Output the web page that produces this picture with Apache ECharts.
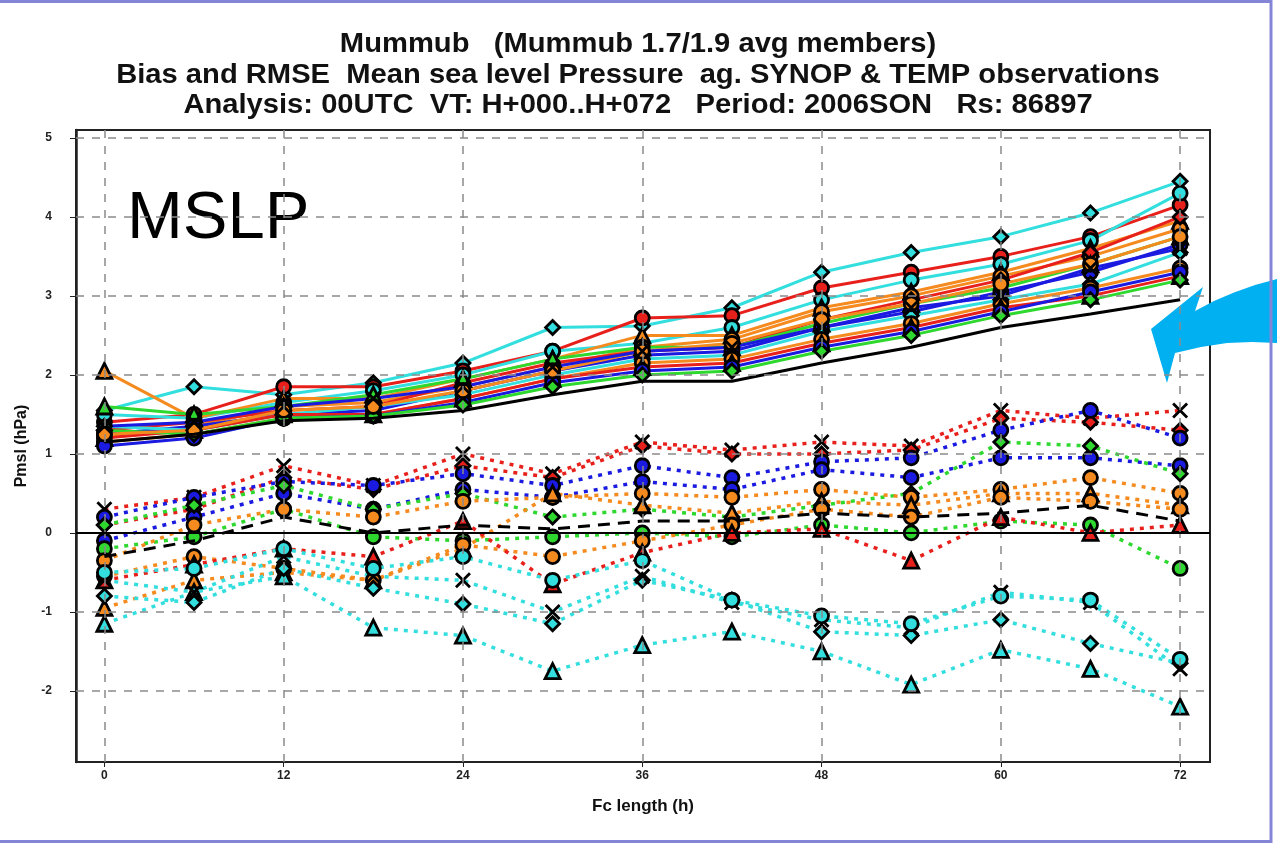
<!DOCTYPE html>
<html>
<head>
<meta charset="utf-8">
<script src="https://cdn.jsdelivr.net/npm/echarts@6/dist/echarts.min.js"></script>
<style>
  html, body { margin: 0; padding: 0; background: #fff; }
  #chart { width: 1277px; height: 845px; }
</style>
</head>
<body>
<div id="chart"></div>
<script>
// forecast lengths (h)
const hours = [0, 6, 12, 18, 24, 30, 36, 42, 48, 54, 60, 66, 72]
const xTicks = [0, 12, 24, 36, 48, 60, 72]
const yTicks = [-2, -1, 0, 1, 2, 3, 4, 5]

const titleLines = [
  'Mummub   (Mummub 1.7/1.9 avg members)',
  'Bias and RMSE  Mean sea level Pressure  ag. SYNOP & TEMP observations',
  'Analysis: 00UTC  VT: H+000..H+072   Period: 2006SON   Rs: 86897'
]

// RMSE (solid) - ensemble mean in black
const rmseMean = [1.15, 1.25, 1.42, 1.45, 1.55, 1.75, 1.92, 1.92, 2.15, 2.35, 2.6, 2.77, 2.95]
const rmseCyan1 = [1.55, 1.85, 1.75, 1.9, 2.15, 2.6, 2.62, 2.85, 3.3, 3.55, 3.75, 4.05, 4.45]
const rmseRed1 = [1.4, 1.5, 1.85, 1.85, 2.05, 2.3, 2.72, 2.75, 3.1, 3.3, 3.5, 3.75, 4.15]
const rmseCyan2 = [1.5, 1.45, 1.65, 1.8, 2.0, 2.3, 2.4, 2.6, 2.95, 3.2, 3.4, 3.7, 4.3]
const rmseOrange1 = [2.05, 1.45, 1.7, 1.7, 1.95, 2.2, 2.5, 2.5, 2.85, 3.05, 3.3, 3.6, 3.95]
const rmseOrange2 = [1.2, 1.35, 1.6, 1.65, 1.85, 2.1, 2.35, 2.45, 2.8, 3.0, 3.25, 3.5, 3.85]
const rmseRed2 = [1.3, 1.4, 1.55, 1.6, 1.9, 2.15, 2.3, 2.35, 2.7, 2.95, 3.2, 3.55, 4.0]
const rmseGreen1 = [1.6, 1.5, 1.6, 1.75, 1.95, 2.2, 2.35, 2.35, 2.65, 2.9, 3.1, 3.4, 3.75]
const rmseBlue1 = [1.25, 1.35, 1.5, 1.55, 1.8, 2.05, 2.25, 2.3, 2.6, 2.8, 3.05, 3.3, 3.65]
const rmseCyan3 = [1.35, 1.3, 1.5, 1.6, 1.75, 2.0, 2.2, 2.25, 2.55, 2.75, 2.95, 3.15, 3.55]
const rmseOrange3 = [1.15, 1.25, 1.45, 1.5, 1.7, 1.95, 2.15, 2.2, 2.45, 2.65, 2.9, 3.1, 3.35]
const rmseRed3 = [1.2, 1.3, 1.5, 1.5, 1.7, 1.95, 2.1, 2.15, 2.4, 2.6, 2.85, 3.0, 3.25]
const rmseBlue2 = [1.1, 1.2, 1.45, 1.48, 1.65, 1.9, 2.05, 2.1, 2.35, 2.55, 2.8, 3.05, 3.3]
const rmseGreen2 = [1.3, 1.25, 1.45, 1.48, 1.62, 1.85, 2.0, 2.05, 2.3, 2.5, 2.75, 2.95, 3.2]
const rmseOrange4 = [1.25, 1.3, 1.55, 1.6, 1.8, 2.05, 2.3, 2.4, 2.7, 2.9, 3.15, 3.4, 3.75]
const rmseBlue3 = [1.35, 1.4, 1.6, 1.7, 1.85, 2.1, 2.3, 2.35, 2.6, 2.85, 3.0, 3.35, 3.6]

// Bias (dotted) - ensemble mean in black dashed
const biasMean = [-0.3, -0.1, 0.2, 0.0, 0.1, 0.05, 0.15, 0.15, 0.25, 0.2, 0.25, 0.35, 0.15]
const biasRed1 = [0.3, 0.45, 0.85, 0.6, 1.0, 0.75, 1.15, 1.05, 1.15, 1.1, 1.55, 1.45, 1.55]
const biasRed2 = [0.1, 0.3, 0.7, 0.55, 0.85, 0.7, 1.1, 1.0, 1.0, 1.05, 1.45, 1.4, 1.3]
const biasBlue1 = [0.2, 0.45, 0.65, 0.6, 0.75, 0.6, 0.85, 0.7, 0.9, 0.95, 1.3, 1.55, 1.2]
const biasBlue2 = [-0.1, 0.2, 0.5, 0.3, 0.55, 0.45, 0.65, 0.55, 0.8, 0.7, 0.95, 0.95, 0.85]
const biasGreen1 = [0.1, 0.35, 0.6, 0.3, 0.5, 0.2, 0.3, 0.2, 0.35, 0.5, 1.15, 1.1, 0.75]
const biasGreen2 = [-0.2, -0.05, 0.3, -0.05, -0.1, -0.05, 0.0, -0.05, 0.1, 0.0, 0.15, 0.1, -0.45]
const biasOrange1 = [-0.35, 0.1, 0.3, 0.2, 0.4, 0.45, 0.5, 0.45, 0.55, 0.45, 0.55, 0.7, 0.5]
const biasOrange2 = [-0.95, -0.6, -0.5, -0.6, -0.2, 0.5, 0.35, 0.25, 0.4, 0.35, 0.5, 0.5, 0.35]
const biasOrange3 = [-0.55, -0.3, -0.45, -0.6, -0.15, -0.3, -0.1, 0.1, 0.3, 0.2, 0.45, 0.4, 0.3]
const biasRed3 = [-0.6, -0.4, -0.2, -0.3, 0.15, -0.65, -0.25, 0.0, 0.05, -0.35, 0.2, 0.0, 0.1]
const biasCyan1 = [-1.15, -0.75, -0.55, -1.2, -1.3, -1.75, -1.42, -1.25, -1.5, -1.92, -1.48, -1.72, -2.2]
const biasCyan2 = [-0.8, -0.88, -0.45, -0.7, -0.9, -1.15, -0.6, -0.85, -1.25, -1.3, -1.1, -1.4, -1.65]
const biasCyan3 = [-0.6, -0.75, -0.3, -0.55, -0.6, -1.0, -0.55, -0.88, -1.1, -1.2, -0.75, -0.88, -1.72]
const biasCyan4 = [-0.5, -0.45, -0.2, -0.45, -0.3, -0.6, -0.35, -0.85, -1.05, -1.15, -0.8, -0.85, -1.6]

const C = {
  cyan: '#33dede', red: '#e8201c', blue: '#1a1ae0', green: '#2ed82e', orange: '#f58a1f'
}
const X_SYM = 'path://M0,0L10,10M10,0L0,10'

const rmseMembers = [
  [rmseCyan1, C.cyan, 'diamond'], [rmseRed1, C.red, 'circle'], [rmseCyan2, C.cyan, 'circle'],
  [rmseOrange1, C.orange, 'triangle'], [rmseOrange2, C.orange, 'circle'], [rmseRed2, C.red, 'diamond'],
  [rmseGreen1, C.green, 'triangle'], [rmseBlue1, C.blue, 'circle'], [rmseCyan3, C.cyan, 'diamond'],
  [rmseOrange3, C.orange, 'circle'], [rmseRed3, C.red, 'triangle'], [rmseBlue2, C.blue, 'circle'],
  [rmseGreen2, C.green, 'diamond'], [rmseOrange4, C.orange, 'circle'], [rmseBlue3, C.blue, X_SYM]
]
const biasMembers = [
  [biasRed1, C.red, X_SYM], [biasRed2, C.red, 'diamond'], [biasBlue1, C.blue, 'circle'],
  [biasBlue2, C.blue, 'circle'], [biasGreen1, C.green, 'diamond'], [biasGreen2, C.green, 'circle'],
  [biasOrange1, C.orange, 'circle'], [biasOrange2, C.orange, 'triangle'], [biasOrange3, C.orange, 'circle'],
  [biasRed3, C.red, 'triangle'], [biasCyan1, C.cyan, 'triangle'], [biasCyan2, C.cyan, 'diamond'],
  [biasCyan3, C.cyan, X_SYM], [biasCyan4, C.cyan, 'circle']
]

const pairs = arr => hours.map((h, i) => [h, arr[i]])

function member(values, color, symbol, dotted) {
  return {
    type: 'line',
    data: pairs(values),
    symbol: symbol,
    symbolSize: symbol === 'triangle' ? 15 : 14,
    lineStyle: { color: color, width: dotted ? 3.5 : 3, type: dotted ? [4, 6] : 'solid' },
    itemStyle: { color: color, borderColor: '#000', borderWidth: 2.8 },
    z: 3,
    silent: true
  }
}

const series = []

// grid lines drawn as mark lines
series.push({
  type: 'line',
  data: [[0, 0]],
  symbol: 'none',
  lineStyle: { opacity: 0 },
  z: 1,
  silent: true,
  markLine: {
    silent: true,
    symbol: 'none',
    label: { show: false },
    lineStyle: { color: '#8a8a8a', width: 1.5, type: [8, 8] },
    data: yTicks.filter(v => v !== 0).map(v => ({ yAxis: v }))
      .concat(xTicks.map(v => ({ xAxis: v })))
  }
})

biasMembers.forEach(([v, c, s]) => series.push(member(v, c, s, true)))
rmseMembers.forEach(([v, c, s]) => series.push(member(v, c, s, false)))

// zero line
series.push({
  type: 'line',
  data: [[0, 0]],
  symbol: 'none',
  lineStyle: { opacity: 0 },
  z: 2,
  silent: true,
  markLine: {
    silent: true,
    symbol: 'none',
    label: { show: false },
    lineStyle: { color: '#000', width: 2, type: 'solid' },
    data: [{ yAxis: 0 }]
  }
})

series.push({
  type: 'line', data: pairs(rmseMean), symbol: 'none', z: 4, silent: true,
  lineStyle: { color: '#000', width: 3 }
})
series.push({
  type: 'line', data: pairs(biasMean), symbol: 'none', z: 4, silent: true,
  lineStyle: { color: '#000', width: 3, type: [12, 8] }
})

// title lines as stretched text
const titleY = [45, 76, 106]
const titleGraphics = titleLines.map((t, i) => ({
  type: 'text', x: 638, y: titleY[i], scaleX: 1.08, silent: true,
  style: {
    text: t, fontFamily: 'Liberation Sans', fontWeight: 'bold', fontSize: 27,
    fill: '#111', textAlign: 'center', textVerticalAlign: 'middle'
  }
}))

const chart = echarts.init(document.getElementById('chart'))
chart.setOption({
  animation: false,
  backgroundColor: '#fff',
  grid: {
    left: 76, right: 67, top: 130, bottom: 83,
    show: true, borderColor: '#222', borderWidth: 2, backgroundColor: 'transparent'
  },
  xAxis: {
    type: 'value', min: -1.9, max: 74,
    name: 'Fc length (h)', nameLocation: 'middle', nameGap: 36,
    nameTextStyle: { fontFamily: 'Liberation Sans', fontWeight: 'bold', fontSize: 17, color: '#111' },
    axisLine: { show: true, onZero: false, lineStyle: { color: '#222', width: 2 } },
    axisTick: { show: true, customValues: xTicks, length: 5, lineStyle: { color: '#222' } },
    axisLabel: {
      customValues: xTicks, margin: 8,
      fontFamily: 'Liberation Sans', fontWeight: 'bold', fontSize: 12, color: '#222'
    },
    splitLine: { show: false }
  },
  yAxis: {
    type: 'value', min: -2.9, max: 5.1,
    name: 'Pmsl (hPa)', nameLocation: 'middle', nameGap: 46,
    nameTextStyle: { fontFamily: 'Liberation Sans', fontWeight: 'bold', fontSize: 16, color: '#111' },
    axisLine: { show: true, onZero: false, lineStyle: { color: '#222', width: 2.5 } },
    axisTick: { show: true, customValues: yTicks, length: 6, lineStyle: { color: '#222' } },
    axisLabel: {
      customValues: yTicks, margin: 24,
      fontFamily: 'Liberation Sans', fontWeight: 'bold', fontSize: 12, color: '#222'
    },
    splitLine: { show: false }
  },
  graphic: titleGraphics.concat([
    {
      type: 'text', x: 127, y: 186, silent: true,
      style: { text: 'MSLP', fontFamily: 'Liberation Sans', fontSize: 67, fill: '#000' }
    },
    {
      type: 'polygon', silent: true,
      shape: {
        points: [[1277, 279], [1255, 285], [1234, 292.5], [1214, 301], [1195, 311], [1203, 287],
          [1151, 329], [1167, 383], [1175, 353], [1201, 347], [1227, 343], [1252, 342], [1277, 343]]
      },
      style: { fill: '#00b0f0' }
    },
    {
      type: 'rect', silent: true,
      shape: { x: -4, y: 1.5, width: 1275, height: 840 },
      style: { fill: 'none', stroke: '#8585d8', lineWidth: 3 }
    }
  ]),
  series: series
})
</script>
</body>
</html>
